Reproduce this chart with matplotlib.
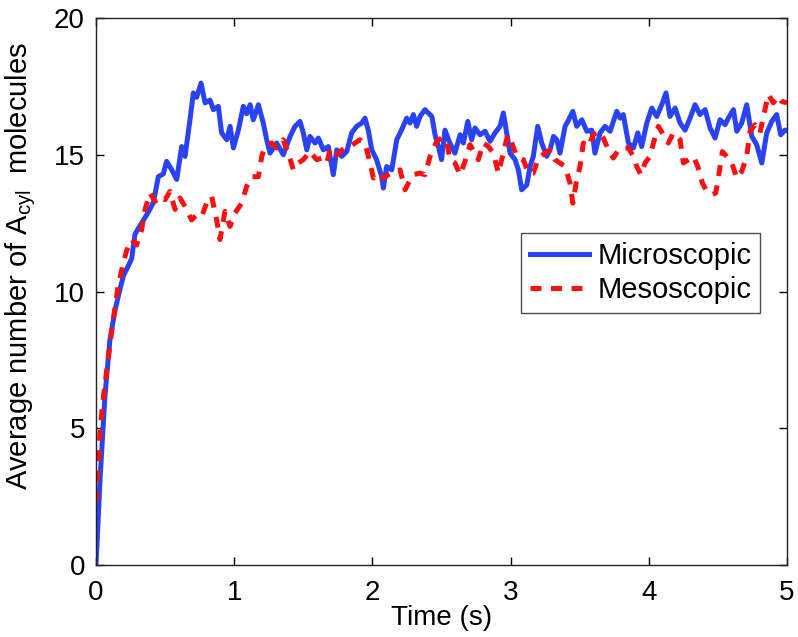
import matplotlib
matplotlib.use("Agg")
import matplotlib.pyplot as plt
import numpy as np

# values
micro_t = [0.0, 0.03, 0.065, 0.1, 0.137, 0.174, 0.2, 0.23, 0.258, 0.282, 0.33, 0.378,
           0.415, 0.451, 0.487, 0.511, 0.548, 0.584, 0.62, 0.644, 0.68, 0.704, 0.728,
           0.76, 0.789, 0.825, 0.849, 0.885, 0.909, 0.946, 0.97, 0.994, 1.03, 1.066,
           1.09, 1.115, 1.138, 1.175, 1.21, 1.235, 1.259, 1.307, 1.355, 1.404, 1.44,
           1.476, 1.5, 1.525, 1.548, 1.585, 1.609, 1.645, 1.681, 1.717, 1.742, 1.778,
           1.814, 1.85, 1.886, 1.923, 1.946, 1.97, 1.995, 2.03, 2.067, 2.079, 2.103,
           2.14, 2.176, 2.21, 2.248, 2.272, 2.296, 2.32, 2.344, 2.38, 2.404, 2.43,
           2.453, 2.477, 2.5, 2.525, 2.56, 2.597, 2.634, 2.658, 2.69, 2.718, 2.742,
           2.778, 2.815, 2.851, 2.887, 2.923, 2.947, 2.971, 2.996, 3.032, 3.056, 3.08,
           3.117, 3.14, 3.164, 3.196, 3.225, 3.261, 3.285, 3.31, 3.334, 3.357, 3.394,
           3.42, 3.45, 3.478, 3.515, 3.551, 3.587, 3.61, 3.647, 3.683, 3.72, 3.743,
           3.768, 3.792, 3.815, 3.852, 3.888, 3.92, 3.948, 3.985, 4.021, 4.057, 4.093,
           4.124, 4.153, 4.19, 4.226, 4.262, 4.298, 4.334, 4.37, 4.407, 4.443, 4.479,
           4.515, 4.551, 4.575, 4.612, 4.636, 4.672, 4.708, 4.745, 4.78, 4.817, 4.853,
           4.889, 4.925, 4.954, 4.985, 5.0]
micro_n = [0.0, 3.2, 6.2, 8.2, 9.3, 10.1, 10.6, 10.9, 11.2, 12.1, 12.5, 12.9,
           13.25, 14.2, 14.3, 14.76, 14.45, 14.1, 15.3, 14.94, 16.28, 17.26, 17.1,
           17.62, 16.9, 17.0, 16.65, 16.77, 15.8, 15.55, 16.04, 15.25, 15.9, 16.77,
           16.5, 16.83, 16.28, 16.83, 16.16, 15.55, 15.06, 15.43, 15.0, 15.67, 16.04,
           16.22, 15.8, 15.18, 15.67, 15.43, 15.61, 15.18, 15.3, 14.27, 15.18, 14.94,
           15.12, 15.8, 16.04, 16.16, 16.34, 15.9, 15.18, 14.82, 14.2, 13.78, 14.57,
           14.45, 15.55, 15.9, 16.34, 16.16, 16.47, 16.04, 16.4, 16.65, 16.53, 16.4,
           15.73, 15.3, 14.82, 15.9, 15.43, 15.06, 15.73, 15.43, 16.22, 15.55, 15.98,
           15.73, 15.86, 15.49, 15.8, 16.04, 16.53, 15.8, 15.06, 14.82, 14.45, 13.72,
           13.9, 14.57, 14.94, 16.04, 15.43, 14.94, 15.18, 15.67, 15.55, 15.06, 16.04,
           16.28, 16.59, 16.04, 16.28, 15.86, 15.9, 15.06, 15.8, 16.04, 15.86, 16.22,
           16.59, 16.34, 16.47, 15.43, 15.25, 15.8, 15.3, 16.16, 16.71, 16.4, 16.83,
           17.26, 16.4, 16.71, 16.16, 15.9, 16.34, 16.83, 16.47, 16.65, 15.98, 15.61,
           16.28, 16.1, 16.34, 16.65, 15.86, 16.16, 16.83, 15.67, 15.37, 14.7, 15.8,
           16.22, 16.47, 15.73, 15.9, 15.9]

meso_t = [0.0, 0.017, 0.029, 0.05, 0.077, 0.12, 0.16, 0.2, 0.222, 0.258, 0.294, 0.33,
          0.355, 0.39, 0.427, 0.463, 0.5, 0.535, 0.572, 0.608, 0.644, 0.692, 0.728,
          0.765, 0.8, 0.837, 0.873, 0.897, 0.933, 0.97, 1.006, 1.054, 1.09, 1.127,
          1.175, 1.199, 1.223, 1.27, 1.307, 1.355, 1.392, 1.428, 1.464, 1.5, 1.548,
          1.597, 1.633, 1.67, 1.693, 1.73, 1.766, 1.8, 1.838, 1.874, 1.91, 1.946,
          1.983, 2.007, 2.043, 2.079, 2.115, 2.163, 2.2, 2.236, 2.26, 2.296, 2.344,
          2.38, 2.417, 2.465, 2.5, 2.537, 2.56, 2.597, 2.634, 2.67, 2.706, 2.742,
          2.766, 2.802, 2.839, 2.875, 2.911, 2.947, 2.979, 3.008, 3.044, 3.092, 3.128,
          3.164, 3.2, 3.249, 3.285, 3.321, 3.357, 3.394, 3.43, 3.45, 3.478, 3.502,
          3.526, 3.562, 3.598, 3.635, 3.671, 3.707, 3.743, 3.78, 3.815, 3.852, 3.888,
          3.912, 3.943, 3.972, 4.008, 4.04, 4.069, 4.105, 4.141, 4.177, 4.226, 4.25,
          4.286, 4.322, 4.354, 4.388, 4.42, 4.455, 4.484, 4.508, 4.532, 4.563, 4.6,
          4.636, 4.672, 4.708, 4.732, 4.768, 4.804, 4.84, 4.865, 4.9, 4.937, 4.961,
          5.0]
meso_n = [2.3, 3.7, 4.9, 6.0, 7.1, 8.8, 10.2, 11.1, 11.5, 11.9, 11.7, 12.26,
          13.0, 13.6, 13.3, 13.48, 13.36, 13.66, 13.0, 13.42, 13.11, 12.62, 12.8,
          12.74, 13.23, 13.48, 12.62, 11.9, 12.93, 12.38, 12.87, 13.23, 13.84, 14.2,
          14.2, 14.94, 15.3, 15.43, 15.25, 15.55, 15.06, 14.45, 14.7, 14.82, 15.12,
          14.82, 14.88, 14.7, 15.18, 14.94, 15.12, 15.25, 15.3, 15.43, 15.55, 15.43,
          14.7, 14.15, 14.33, 14.15, 14.27, 14.39, 14.45, 13.72, 13.96, 14.27, 14.33,
          14.27, 14.94, 15.49, 15.61, 15.55, 14.82, 14.7, 14.27, 14.76, 15.37, 15.06,
          14.82, 15.43, 15.3, 15.06, 14.33, 15.06, 15.73, 15.43, 14.94, 14.82, 14.33,
          14.33, 14.88, 15.06, 15.18, 14.82, 14.7, 14.57, 13.96, 13.23, 14.09, 14.57,
          15.43, 15.3, 15.73, 15.86, 15.61, 15.18, 14.88, 15.18, 15.25, 15.25, 14.94,
          14.57, 14.27, 14.7, 14.94, 15.55, 16.04, 15.73, 15.43, 15.8, 15.55, 14.7,
          14.82, 14.94, 14.57, 13.96, 13.66, 13.54, 13.6, 14.33, 15.12, 14.94, 14.7,
          14.15, 14.39, 14.94, 15.86, 16.1, 15.8, 16.65, 17.2, 16.9, 17.14, 16.95,
          16.9]

x_ticks = [0, 1, 2, 3, 4, 5]
y_ticks = [0, 5, 10, 15, 20]

plt.rcParams['font.family'] = ['Liberation Sans', 'DejaVu Sans']
plt.rcParams['mathtext.fontset'] = 'custom'
plt.rcParams['mathtext.rm'] = 'Liberation Sans'
plt.rcParams['mathtext.it'] = 'Liberation Sans:italic'

fig = plt.figure(figsize=(7.98, 6.37), dpi=100)
ax = fig.add_axes([0.1203, 0.113, 0.866, 0.8587])

ax.plot(micro_t, micro_n, color='#2a43f2', lw=3.6, label='Microscopic')
ax.plot(meso_t, meso_n, color='#fb1010', lw=3.6, ls=(0, (2.2, 1.9)),
        label='Mesoscopic')

ax.set_xlim(0, 5)
ax.set_ylim(0, 20)
ax.set_xticks(x_ticks)
ax.set_yticks(y_ticks)
ax.tick_params(direction='in', length=5.5, width=1, labelsize=20,
               top=True, right=True)
ax.tick_params(axis='x', pad=11)
ax.tick_params(axis='y', pad=8)
for s in ax.spines.values():
    s.set_linewidth(1)
    s.set_color('#222222')

ax.set_xlabel('Time (s)', fontsize=20)
ax.xaxis.set_label_coords(0.5, -0.074)
ax.set_ylabel(r'Average number of A$_{\mathrm{cyl}}\;$ molecules', fontsize=21)
ax.yaxis.set_label_coords(-0.084, 0.547)

leg = ax.legend(loc='upper right', bbox_to_anchor=(0.961, 0.607), fontsize=21,
                frameon=True, fancybox=False, edgecolor='#222222',
                handlelength=2.03, handletextpad=0.28, borderpad=0.3,
                labelspacing=0.22, borderaxespad=0)
leg.get_frame().set_linewidth(1)

fig.savefig('out.png', dpi=100)
